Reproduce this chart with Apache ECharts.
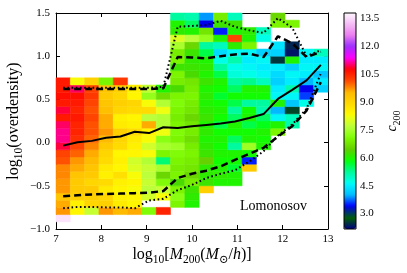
<!DOCTYPE html>
<html><head><meta charset="utf-8">
<script src="https://cdn.jsdelivr.net/npm/echarts@6/dist/echarts.min.js"></script>
<style>html,body{margin:0;padding:0;background:#fff}#c{width:407px;height:273px}</style>
</head><body><div id="c"></div>
<script>
// ---- bins ----
const massEdges = [7.000,7.316,7.632,7.947,8.263,8.579,8.895,9.211,9.526,9.842,10.158,10.474,10.789,11.105,11.421,11.737,12.053,12.368,12.684,13.000];
const deltaEdges = [-1.000,-0.917,-0.833,-0.750,-0.667,-0.583,-0.500,-0.417,-0.333,-0.250,-0.167,-0.083,0.000,0.083,0.167,0.250,0.333,0.417,0.500,0.583,0.667,0.750,0.833,0.917,1.000,1.083,1.167,1.250,1.333,1.417,1.500];
const massCenters = [7.158,7.474,7.789,8.105,8.421,8.737,9.053,9.368,9.684,10.000,10.316,10.632,10.947,11.263,11.579,11.895,12.211,12.526,12.842];

// ---- c200 per mass column, first filled overdensity bin index + values upward ----
const colStart = [1,2,2,2,2,2,2,2,3,3,5,6,6,8,11,13,14,17,19];
const c200 = [
 [13.6,9.7,9.6,9.3,9.7,9.7,9.8,9.8,10.1,10.2,10.9,11.1,11.1,11.0,10.6,10.9,10.6,10.7,10.6,10.6],
 [8.4,8.5,9.1,9.2,9.2,9.3,9.6,9.7,10.0,10.2,10.4,10.5,10.5,10.6,10.5,10.6,10.7,11.0,8.3],
 [7.8,9.0,9.1,9.2,9.0,9.2,9.3,9.5,9.6,9.8,10.0,10.1,10.1,10.2,10.1,10.2,10.3,10.2,9.1],
 [9.7,9.1,9.0,8.6,8.9,8.5,8.6,8.9,9.0,9.2,9.5,9.7,9.6,9.6,9.4,9.3,9.2,9.3,7.0],
 [9.5,8.6,8.5,8.4,8.5,8.8,8.4,8.5,8.4,8.9,9.0,9.1,8.6,8.5,9.0,9.1,9.0,9.1,10.3],
 [9.6,8.4,8.4,8.3,8.4,8.3,8.0,7.9,8.4,8.5,8.6,8.9,8.5,8.4,8.9,9.0,8.4,8.5],
 [7.1,null,7.9,7.7,7.8,7.7,7.8,7.6,8.3,7.9,8.3,8.4,9.6,7.7,8.9,8.3,7.3,7.8],
 [10.5,null,8.3,7.8,7.1,6.6,7.5,5.4,7.0,7.5,7.2,8.2,7.6,7.6,8.2,7.6,6.7,6.0],
 [7.0,7.2,7.0,6.3,7.0,6.9,7.0,7.1,7.4,7.0,7.1,7.0,6.9,7.0,7.1,7.0,6.3,6.9,7.0,6.2,7.0,6.9,7.5,8.0,6.1,6.0,5.2],
 [6.0,6.1,6.2,6.9,6.6,6.8,6.9,7.0,6.9,6.7,6.9,6.8,6.6,6.8,6.9,7.0,6.9,6.8,6.3,6.2,6.1,6.2,6.6,7.7,6.0,5.5,5.1],
 [9.1,6.2,6.1,6.1,6.5,6.2,6.1,6.0,6.1,6.0,6.2,6.1,6.0,6.1,6.0,6.2,6.0,6.1,6.0,5.6,5.2,7.3,6.8,3.4,3.9],
 [6.0,6.1,6.0,5.9,6.0,5.9,6.0,5.9,5.6,5.9,6.0,5.9,5.7,5.9,6.0,5.6,5.2,4.7,4.3,5.0,6.0,3.5,6.2,6.9],
 [6.0,6.0,5.7,5.9,6.0,5.2,5.5,5.9,6.0,5.5,5.2,5.6,5.9,5.5,5.2,4.8,4.7,5.1,4.6,6.1,10.2,6.0,6.2,5.0],
 [9.2,3.5,5.9,7.4,6.0,5.9,5.6,6.0,5.9,5.2,5.9,6.0,5.3,4.7,4.6,4.5,4.6,7.0,6.0,6.1],
 [6.0,5.9,6.0,5.8,5.5,5.1,5.2,5.9,6.0,5.0,4.6,4.5,4.6,4.2,null,4.7,5.0],
 [7.0,6.0,4.6,4.0,6.0,4.6,4.5,4.2,4.3,4.5,2.5,4.2,4.4,null,null,7.0,6.6],
 [5.1,5.0,2.6,4.1,4.6,5.1,4.5,4.6,4.2,6.0,2.3,2.4,null,null,7.0],
 [4.7,3.6,3.4,4.0,4.5,4.6,4.5,4.6],
 [4.2,4.5,4.1,4.6,4.5,5.0]
];

// ---- percentile curves at mass bin centres ----
const median  = [-0.035,0.005,0.02,0.055,0.07,0.125,0.11,0.178,0.17,0.19,0.205,0.22,0.245,0.285,0.33,0.505,0.61,0.72,0.90];
const dashLow = [-0.62,-0.61,-0.60,-0.595,-0.59,-0.585,-0.58,-0.56,-0.41,-0.36,-0.325,-0.275,-0.20,-0.13,-0.06,0.07,0.19,0.37,0.70];
const dashHigh= [0.62,0.62,0.62,0.62,0.62,0.62,0.62,0.63,0.99,0.985,0.975,1.0,1.02,1.03,0.99,1.23,1.15,0.99,1.05];
const dotLow  = [-0.76,-0.745,-0.745,-0.75,-0.75,-0.76,-0.67,-0.65,-0.55,-0.49,-0.41,-0.36,-0.32,-0.22,-0.10,0.08,0.21,0.39,0.80];
const dotHigh = [0.635,0.635,0.635,0.635,0.635,0.635,0.635,0.645,1.34,1.35,1.36,1.41,1.34,1.30,1.27,1.44,1.33,1.0,1.07];

const cbarTicks = [3.0,4.5,6.0,7.5,9.0,10.5,12.0,13.5];
const cRange = [2.17, 13.8];

// ---- gist_ncar colormap ----
const NCAR = {
 r:[[0,0],[0.3098,0],[0.3725,0.3993],[0.4235,0.5003],[0.5333,1],[0.7922,1],[0.8471,0.6218],[0.8980,0.9235],[1,0.9961]],
 g:[[0,0],[0.0510,0.3722],[0.1059,0],[0.1569,0.7202],[0.1608,0.7537],[0.1647,0.7752],[0.2157,1],[0.2588,0.9804],[0.2706,0.9804],[0.3176,1],[0.3686,0.8081],[0.4275,1],[0.5216,1],[0.6314,0.7292],[0.6863,0.2796],[0.7451,0],[0.7922,0],[0.8431,0.1753],[0.8980,0.5],[1,0.9725]],
 b:[[0,0.5020],[0.0510,0.0222],[0.1098,1],[0.2039,1],[0.2627,0.6145],[0.3216,0],[0.4157,0],[0.4745,0.2342],[0.5333,0],[0.7373,0],[0.7922,0.9738],[0.8000,1],[0.8431,1],[0.8980,0.9341],[1,0.9961]]
};
function seg(p,t){for(let k=1;k<p.length;k++){if(t<=p[k][0]){const a=p[k-1],b=p[k];return a[1]+(b[1]-a[1])*(t-a[0])/(b[0]-a[0]);}}return p[p.length-1][1];}
const cmap=[];for(let n=0;n<=255;n++){const t=n/255;cmap.push('rgb('+Math.round(255*seg(NCAR.r,t))+','+Math.round(255*seg(NCAR.g,t))+','+Math.round(255*seg(NCAR.b,t))+')');}

const cells=[];
c200.forEach((col,i)=>col.forEach((v,k)=>{if(v==null)return;const j=colStart[i]+k;cells.push([massEdges[i],massEdges[i+1],deltaEdges[j],deltaEdges[j+1],v]);}));
const pts=a=>massCenters.map((x,i)=>[x,a[i]]);

const FF="'Liberation Serif','DejaVu Serif',serif";
const rich={t:{fontFamily:FF,fontSize:16,lineHeight:22,color:'#000'},i:{fontFamily:FF,fontSize:16,lineHeight:22,fontStyle:'italic',color:'#000'},s:{fontFamily:FF,fontSize:11.5,lineHeight:13,verticalAlign:'bottom',color:'#000'}};
const richC={i:{fontFamily:FF,fontSize:14,lineHeight:20,fontStyle:'italic',color:'#000'},s:{fontFamily:FF,fontSize:10,lineHeight:12,verticalAlign:'bottom',color:'#000'}};
const axLine={onZero:false,lineStyle:{color:'#000',width:1}};
const tick={inside:true,length:4,lineStyle:{color:'#000',width:1}};
const yFmt=v=>(v<0?'\u2212':'')+Math.abs(v).toFixed(1);

const chart=echarts.init(document.getElementById('c'),null,{renderer:'canvas'});
chart.setOption({
 animation:false,
 backgroundColor:'#fff',
 title:{text:'Lomonosov',left:240,top:199,padding:0,textStyle:{fontFamily:FF,fontSize:14,fontWeight:'normal',color:'#000'}},
 grid:[{left:56,top:13,width:272,height:216,show:false,containLabel:false,outerBoundsMode:'none'},
       {left:344,top:13,width:12,height:216,show:true,borderColor:'#000',borderWidth:1,backgroundColor:'transparent',z:10,containLabel:false,outerBoundsMode:'none'}],
 xAxis:[
  {type:'value',gridIndex:0,min:7,max:13,interval:1,position:'bottom',axisLine:axLine,axisTick:tick,splitLine:{show:false},
   axisLabel:{color:'#000',fontFamily:FF,fontSize:11,margin:5},
   name:'{t|log}{s|10}{t|[}{i|M}{s|200}{t|(}{i|M}{s|\u2299}{t|/}{i|h}{t|)]}',nameLocation:'middle',nameGap:15,nameMoveOverlap:false,nameTextStyle:{rich:rich}},
  {type:'value',gridIndex:0,min:7,max:13,interval:1,position:'top',axisLine:axLine,axisTick:tick,axisLabel:{show:false},splitLine:{show:false}},
  {type:'value',gridIndex:1,min:0,max:1,show:false}
 ],
 yAxis:[
  {type:'value',gridIndex:0,min:-1,max:1.5,interval:0.5,position:'left',axisLine:axLine,axisTick:tick,splitLine:{show:false},
   axisLabel:{color:'#000',fontFamily:FF,fontSize:11,margin:6,formatter:yFmt},
   name:'{t|log}{s|10}{t|(overdensity)}',nameLocation:'middle',nameGap:31,nameRotate:90,nameMoveOverlap:false,nameTextStyle:{rich:rich}},
  {type:'value',gridIndex:0,min:-1,max:1.5,interval:0.5,position:'right',axisLine:axLine,axisTick:tick,axisLabel:{show:false},splitLine:{show:false}},
  {type:'value',gridIndex:1,min:cRange[0],max:cRange[1],position:'right',axisLine:{show:false,onZero:false},splitLine:{show:false},
   axisTick:{inside:true,length:3,customValues:cbarTicks,lineStyle:{color:'#000'}},
   axisLabel:{customValues:cbarTicks,color:'#000',fontFamily:FF,fontSize:11,margin:4,formatter:v=>v.toFixed(1)},
   name:'{i|c}{s|200}',nameLocation:'middle',nameGap:26,nameRotate:90,nameMoveOverlap:false,nameTextStyle:{rich:richC}}
 ],
 visualMap:{type:'continuous',min:cRange[0],max:cRange[1],dimension:4,seriesIndex:0,calculable:false,orient:'vertical',
   left:344,top:13,itemWidth:12,itemHeight:216,padding:0,hoverLink:false,inRange:{color:cmap}},
 series:[
  {type:'custom',xAxisIndex:0,yAxisIndex:0,data:cells,encode:{x:[0,1],y:[2,3]},z:1,
   renderItem:(params,api)=>{const p0=api.coord([api.value(0),api.value(3)]);const p1=api.coord([api.value(1),api.value(2)]);const c=api.visual('color');
     return {type:'rect',shape:{x:p0[0],y:p0[1],width:p1[0]-p0[0],height:p1[1]-p0[1]},style:{fill:c,stroke:c,lineWidth:0.5}};}},
  {type:'line',data:pts(median),symbol:'none',lineStyle:{color:'#000',width:2},z:5},
  {type:'line',data:pts(dashLow),symbol:'none',lineStyle:{color:'#000',width:2.5,type:[7,4]},z:5},
  {type:'line',data:pts(dashHigh),symbol:'none',lineStyle:{color:'#000',width:2.5,type:[7,4]},z:5},
  {type:'line',data:pts(dotLow),symbol:'none',lineStyle:{color:'#000',width:2,type:[1.6,2.6]},z:5},
  {type:'line',data:pts(dotHigh),symbol:'none',lineStyle:{color:'#000',width:2,type:[1.6,2.6]},z:5}
 ]
});
</script></body></html>
